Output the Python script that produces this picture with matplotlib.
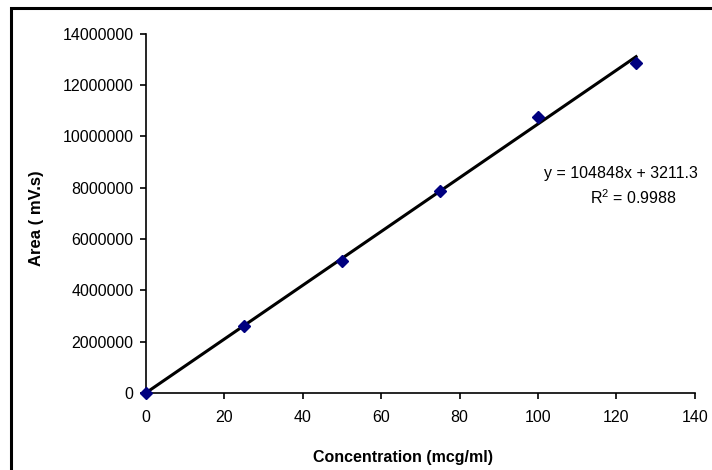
import matplotlib.pyplot as plt
from matplotlib.patches import Rectangle
from matplotlib.ticker import FuncFormatter
import numpy as np

plt.rcParams['font.family'] = ['Liberation Sans', 'DejaVu Sans']
plt.rcParams['mathtext.fontset'] = 'custom'
plt.rcParams['mathtext.rm'] = 'Liberation Sans'

# data
conc = [0, 25, 50, 75, 100, 125]
area = [0, 2610000, 5150000, 7880000, 10770000, 12880000]
slope = 104848
intercept = 3211.3
r2 = 0.9988
x_ticks = [0, 20, 40, 60, 80, 100, 120, 140]
y_ticks = [0, 2000000, 4000000, 6000000, 8000000, 10000000, 12000000, 14000000]

fig = plt.figure(figsize=(7.12, 4.70), dpi=100)
ax = fig.add_axes([0.205, 0.164, 0.771, 0.764])

# outer frame of the chart area (right/bottom edges fall outside the image)
fig.patches.append(Rectangle((11 / 712, -0.1), 1.2, 1 - 8 / 470 + 0.1,
                             transform=fig.transFigure, fill=False,
                             edgecolor='black', linewidth=2.2, clip_on=False))

# trend line
xl = np.array([conc[0], conc[-1]])
ax.plot(xl, slope * xl + intercept, color='black', linewidth=2.2, zorder=2)
ax.plot(conc, area, linestyle='none', marker='D', markersize=6.5,
        color='#000080', zorder=3, clip_on=False)

ax.set_xlim(0, 140)
ax.set_ylim(0, 14000000)
ax.set_xticks(x_ticks)
ax.set_yticks(y_ticks)
ax.yaxis.set_major_formatter(FuncFormatter(lambda v, p: f'{int(v)}'))

for s in ['top', 'right']:
    ax.spines[s].set_visible(False)
for s in ['left', 'bottom']:
    ax.spines[s].set_linewidth(1.2)
ax.tick_params(direction='out', length=4, width=1.2, labelsize=11.5, pad=5)
ax.tick_params(axis='x', pad=8)

ax.set_xlabel('Concentration (mcg/ml)', fontsize=11.5, fontweight='bold')
ax.set_ylabel('Area ( mV.s)', fontsize=12, fontweight='bold')
ax.xaxis.set_label_coords(0.468, -0.158)
ax.yaxis.set_label_coords(-0.186, 0.487)

ax.text(0.725, 0.61, f'y = {slope}x + {intercept}', transform=ax.transAxes,
        fontsize=11.5, ha='left', va='center', clip_on=False)
ax.text(0.888, 0.545, f'R$^2$ = {r2}', transform=ax.transAxes,
        fontsize=11.5, ha='center', va='center')

plt.savefig('out.png', dpi=100)
